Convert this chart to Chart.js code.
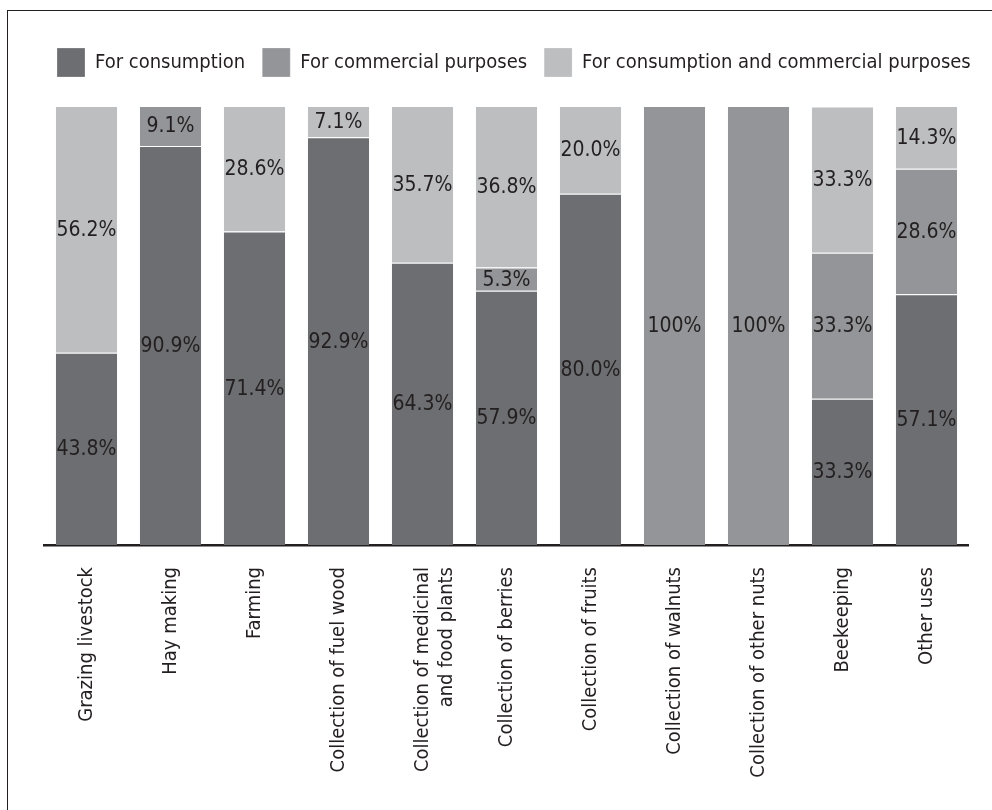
<!DOCTYPE html>
<html>
<head>
<meta charset="utf-8">
<script src="https://cdn.jsdelivr.net/npm/chart.js@4.4.1/dist/chart.umd.min.js"></script>
<style>
  html, body { margin: 0; padding: 0; background: #fff; }
  #wrap { position: relative; width: 992px; height: 810px; overflow: hidden; }
  #frame { position: absolute; left: 7px; top: 10px; width: 1100px; height: 900px;
           border-left: 1.5px solid #231f20; border-top: 1.5px solid #231f20; }
  canvas { position: absolute; left: 0; top: 0; }
</style>
</head>
<body>
<div id="wrap">
  <div id="frame"></div>
  <canvas id="c" width="992" height="810"></canvas>
</div>
<script>
// Activities and their shares by purpose of use (percent)
const categories = [
  'Grazing livestock',
  'Hay making',
  'Farming',
  'Collection of fuel wood',
  ['Collection of medicinal', 'and food plants'],
  'Collection of berries',
  'Collection of fruits',
  'Collection of walnuts',
  'Collection of other nuts',
  'Beekeeping',
  'Other uses'
];
const forConsumption = [43.8, 90.9, 71.4, 92.9, 64.3, 57.9, 80.0, 0, 0, 33.3, 57.1];
const forCommercial = [0, 9.1, 0, 0, 0, 5.3, 0, 100, 100, 33.3, 28.6];
const forBoth = [56.2, 0, 28.6, 7.1, 35.7, 36.8, 20.0, 0, 0, 33.3, 14.3];
const seriesNames = ['For consumption', 'For commercial purposes', 'For consumption and commercial purposes'];

const FONT = "'Liberation Sans Narrow', 'DejaVu Sans Condensed', 'Arial Narrow', sans-serif";
const INK = '#231f20';

// Writes each segment's share in the middle of its bar piece
const segmentLabels = {
  id: 'segmentLabels',
  afterDatasetsDraw(chart) {
    const ctx = chart.ctx;
    ctx.save();
    ctx.font = '21px ' + FONT;
    ctx.fillStyle = INK;
    ctx.textAlign = 'center';
    ctx.textBaseline = 'middle';
    chart.data.datasets.forEach((ds, di) => {
      const meta = chart.getDatasetMeta(di);
      meta.data.forEach((bar, i) => {
        const v = ds.data[i];
        if (!v) return;
        const txt = v === 100 ? '100%' : v.toFixed(1) + '%';
        ctx.fillText(txt, bar.x, (bar.y + bar.base) / 2 + 1);
      });
    });
    ctx.restore();
  }
};

const colors = ['#6d6e71', '#939598', '#bcbec0'];
const values = [forConsumption, forCommercial, forBoth];

// Empty spacer axes that reserve room around the plot
const spacer = (size, horizontal) => ({
  display: true,
  grid: { display: false, drawTicks: false },
  border: { display: false },
  ticks: { display: false },
  afterFit(scale) {
    if (horizontal) scale.height = size; else scale.width = size;
  }
});

new Chart(document.getElementById('c'), {
  type: 'bar',
  data: {
    labels: categories,
    datasets: values.map((d, k) => ({
      label: seriesNames[k],
      data: d,
      backgroundColor: colors[k],
      borderColor: '#ffffff',
      borderWidth: { top: 1, bottom: 0, left: 0, right: 0 },
      borderSkipped: false,
      barPercentage: 0.73,
      categoryPercentage: 1.0
    }))
  },
  options: {
    responsive: false,
    animation: false,
    layout: { padding: { left: 40, right: 0, top: 31, bottom: 0 } },
    plugins: {
      legend: {
        display: true,
        position: 'top',
        align: 'start',
        labels: {
          boxWidth: 28,
          boxHeight: 29,
          padding: 17,
          color: INK,
          font: { family: FONT, size: 20 }
        }
      },
      tooltip: { enabled: false }
    },
    scales: {
      x: {
        stacked: true,
        grid: { display: false, drawTicks: false },
        border: { display: true, color: INK, width: 2.5 },
        ticks: {
          color: INK,
          font: { family: FONT, size: 20 },
          minRotation: 90,
          maxRotation: 90,
          padding: 22,
          autoSkip: false
        },
        afterFit(scale) { scale.height = 265; }
      },
      xTop: Object.assign({ type: 'category', position: 'top' }, spacer(19, true)),
      y: Object.assign({ stacked: true, min: 0, max: 100, position: 'left' }, spacer(4.5, false)),
      yRight: Object.assign({ type: 'linear', position: 'right' }, spacer(23.5, false))
    }
  },
  plugins: [segmentLabels]
});
</script>
</body>
</html>
